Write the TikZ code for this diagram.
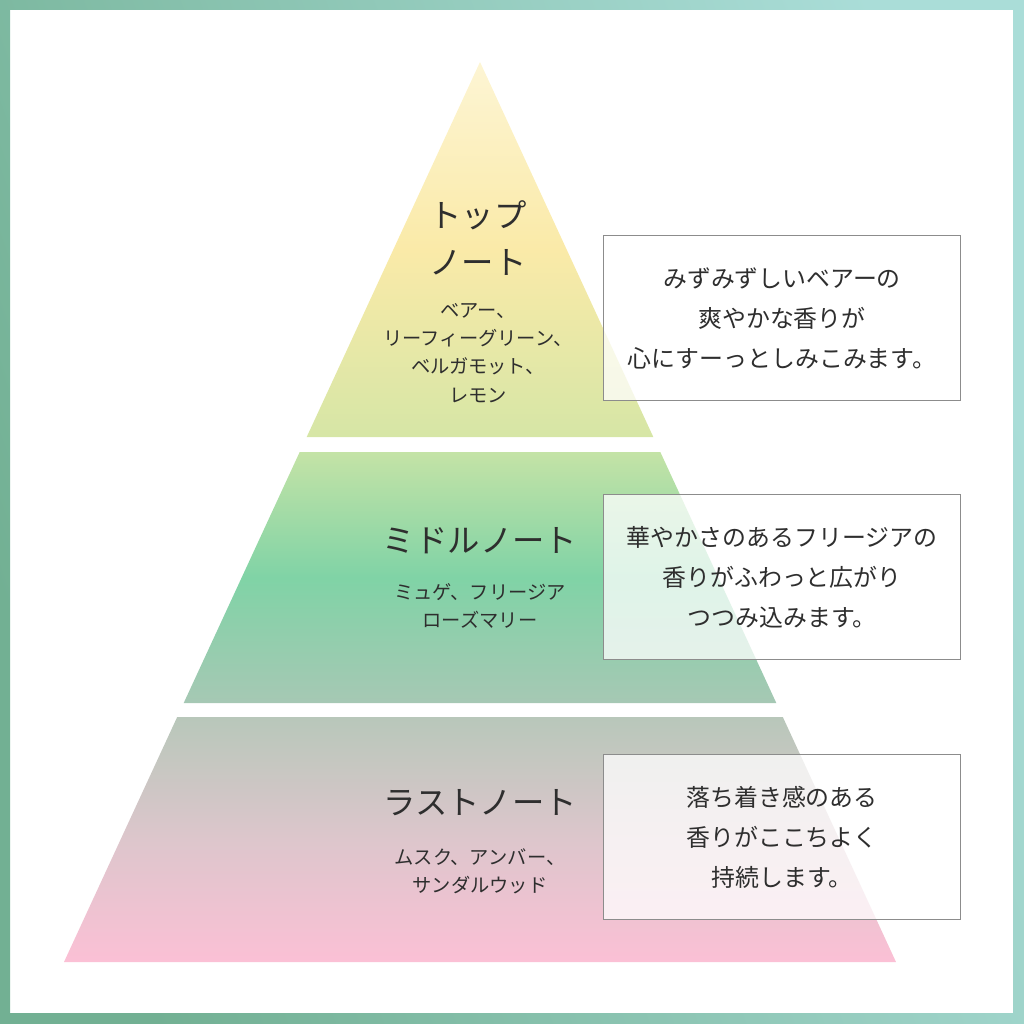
\documentclass[tikz,border=0pt]{standalone}
\usepackage{fontspec}
\setmainfont{Noto Sans CJK JP}
\usepackage{xcolor}
\usetikzlibrary{positioning}

\definecolor{ink}{HTML}{2E2E2E}
\definecolor{boxline}{HTML}{8C8C8C}
\definecolor{frameA}{HTML}{72B093}
\definecolor{frameB}{HTML}{AADDD8}
\definecolor{topA}{HTML}{FDF5D4}
\definecolor{topB}{HTML}{FAEAA8}
\definecolor{topC}{HTML}{D6E6A6}
\definecolor{midA}{HTML}{C4E3A6}
\definecolor{midB}{HTML}{80D3A6}
\definecolor{midC}{HTML}{A6C8B4}
\definecolor{lowA}{HTML}{B8C7BA}
\definecolor{lowB}{HTML}{DDC6CC}
\definecolor{lowC}{HTML}{FBC0D5}

\begin{document}
\begin{tikzpicture}[x=0.025cm,y=-0.025cm]
	\tikzstyle{note}=[align=center,text=ink,font=\fontsize{23}{33.4}\selectfont]
	\tikzstyle{items}=[align=center,text=ink,font=\fontsize{13.7}{20}\selectfont]
	\tikzstyle{desc}=[draw=boxline,line width=0.7pt,fill=white,fill opacity=0.75,text opacity=1,
		minimum width=8.9cm,minimum height=4.1cm,align=center,text=ink,
		font=\fontsize{17}{28.4}\selectfont]
	\useasboundingbox (0,0) rectangle (1024,1024);
	% frame
	\shade[even odd rule,top color=frameB,bottom color=frameA,shading angle=-70]
		(0,0) rectangle (1024,1024) (10,10) rectangle (1013,1013);
	% pyramid
	\shade[top color=topA,bottom color=topC,middle color=topB]
		(480,62) -- (653.3,437) -- (306.7,437) -- cycle;
	\shade[top color=midA,bottom color=midC,middle color=midB]
		(299.7,452) -- (660.3,452) -- (776.3,703) -- (183.7,703) -- cycle;
	\shade[top color=lowA,bottom color=lowC,middle color=lowB]
		(177.2,717) -- (782.8,717) -- (896,962) -- (64,962) -- cycle;
	% notes
	\node[note](top) at (478,238){トップ\\ノート};
	\node[items](topitems) at (478,353){ベアー、\\リーフィーグリーン、\\ベルガモット、\\レモン};
	\node[note](middle) at (480,541){ミドルノート};
	\node[items](miditems) at (480,606){ミュゲ、フリージア\\ローズマリー};
	\node[note](last) at (480,803){ラストノート};
	\node[items](lastitems) at (480,871){ムスク、アンバー、\\サンダルウッド};
	% descriptions
	\node[desc](topdesc) at (782,318){みずみずしいベアーの\\爽やかな香りが\\心にすーっとしみこみます。};
	\node[desc](middesc) at (782,577){華やかさのあるフリージアの\\香りがふわっと広がり\\つつみ込みます。};
	\node[desc](lastdesc) at (782,837){落ち着き感のある\\香りがここちよく\\持続します。};
\end{tikzpicture}
\end{document}
